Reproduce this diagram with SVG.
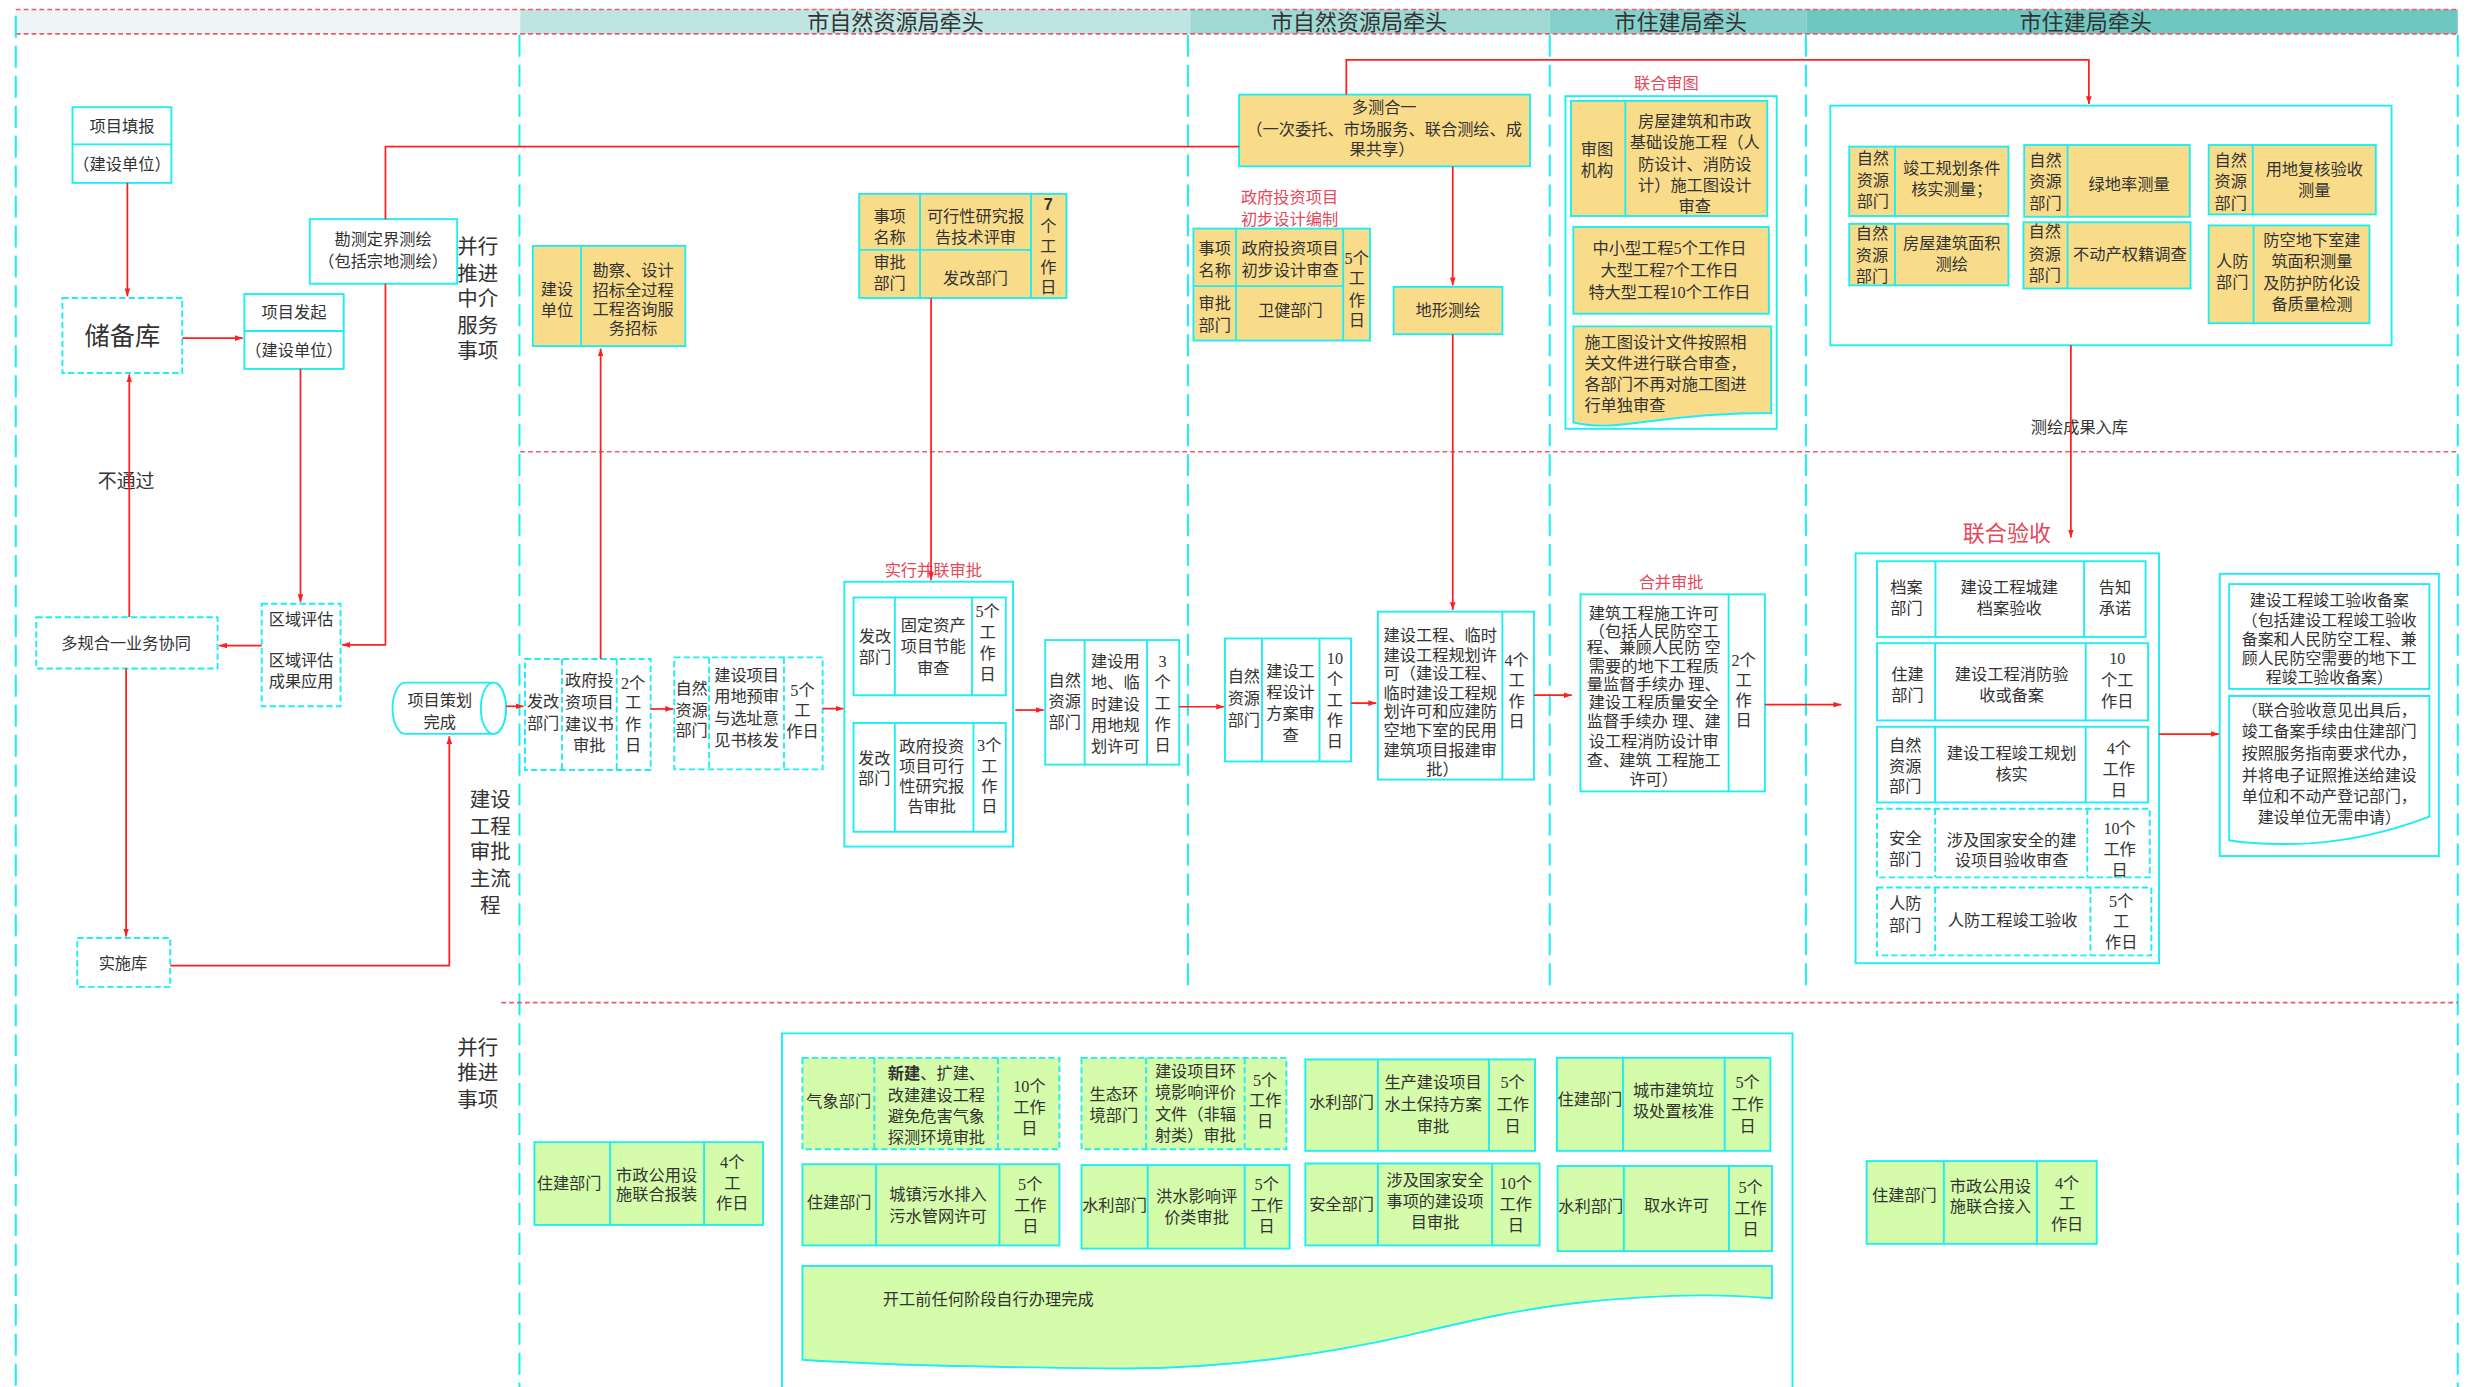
<svg xmlns="http://www.w3.org/2000/svg" width="2472" height="1387" viewBox="0 0 2472 1387">
<style>
.c{fill:#fff;stroke:#1ceef2;stroke-width:1.2}
.cd{fill:#fff;stroke:#1ceef2;stroke-width:1.2;stroke-dasharray:4 2}
.y{fill:#f9dc8a;stroke:#1ceef2;stroke-width:1.2}
.gr{fill:#d5fcaa;stroke:#1ceef2;stroke-width:1.2}
.gd{fill:#d5fcaa;stroke:#1ceef2;stroke-width:1.2;stroke-dasharray:4 2}
.ln{stroke:#1ceef2;stroke-width:1.2;fill:none}
.lnd{stroke:#1ceef2;stroke-width:1.2;fill:none;stroke-dasharray:4 2}
.lane{stroke:#1ceef2;stroke-width:1.3;stroke-dasharray:14 5;fill:none}
.rd{stroke:#f0566c;stroke-width:1;stroke-dasharray:3 2;fill:none}
.r{stroke:#ff1f1f;stroke-width:1.1;fill:none}
.ra{marker-end:url(#a)}
text{font-family:"Liberation Serif","Noto Sans CJK SC",serif;fill:#333;text-anchor:middle;font-size:10.3px}
.lt{text-anchor:start}
.rl{fill:#e4485a}
.v{font-size:13px}
.h{font-size:14px}
</style>
<defs>
<marker id="a" viewBox="0 0 10 10" refX="10" refY="5" markerWidth="5" markerHeight="3.6" markerUnits="userSpaceOnUse" orient="auto" preserveAspectRatio="none"><path d="M0,0 L10,5 L0,10 z" fill="#ff1f1f"/></marker>
</defs>
<rect width="2472" height="1387" fill="#fff"/>
<g transform="scale(1.5765)">
<g id="header">
<rect x="10" y="6" width="320" height="15.5" fill="#edf6f5"/>
<rect x="330" y="6" width="425" height="15.5" fill="#bfe5e2"/>
<rect x="755" y="6" width="228" height="15.5" fill="#a0d8d4"/>
<rect x="983" y="6" width="163" height="15.5" fill="#86d0cb"/>
<rect x="1146" y="6" width="413" height="15.5" fill="#6ec7c1"/>
<line class="rd" x1="10" y1="6" x2="1559" y2="6"/>
<line class="rd" x1="10" y1="21.5" x2="1559" y2="21.5"/>
<text class="h" x="568" y="19">市自然资源局牵头</text>
<text class="h" x="862" y="19">市自然资源局牵头</text>
<text class="h" x="1066" y="19">市住建局牵头</text>
<text class="h" x="1323" y="19">市住建局牵头</text>
</g>
<g id="lanes">
<line class="lane" x1="10" y1="10" x2="10" y2="880"/>
<line class="lane" x1="329.5" y1="22" x2="329.5" y2="880"/>
<line class="lane" x1="753.5" y1="22" x2="753.5" y2="630"/>
<line class="lane" x1="983" y1="22" x2="983" y2="630"/>
<line class="lane" x1="1145.5" y1="22" x2="1145.5" y2="630"/>
<line class="lane" x1="1559" y1="22" x2="1559" y2="880"/>
<line class="rd" x1="330" y1="286.5" x2="1559" y2="286.5"/>
<line class="rd" x1="318" y1="636" x2="1559" y2="636"/>
<text class="v"><tspan x="303" y="161">并行</tspan><tspan x="303" y="178">推进</tspan><tspan x="303" y="194">中介</tspan><tspan x="303" y="211">服务</tspan><tspan x="303" y="227">事项</tspan></text>
<text class="v"><tspan x="311" y="512">建设</tspan><tspan x="311" y="529">工程</tspan><tspan x="311" y="545">审批</tspan><tspan x="311" y="562">主流</tspan><tspan x="311" y="579">程</tspan></text>
<text class="v"><tspan x="303" y="669">并行</tspan><tspan x="303" y="685">推进</tspan><tspan x="303" y="702">事项</tspan></text>
</g>

<g id="n_xmtb"><rect class="c" x="46" y="68" width="62.7" height="48"/><line class="ln" x1="46" y1="91.6" x2="108.7" y2="91.6"/><text x="77.4" y="83.6">项目填报</text><text x="77.4" y="107.6">（建设单位）</text></g>
<g id="n_cbk"><rect class="cd" x="39.6" y="189" width="76" height="47.6"/><text x="77.6" y="218.8" style="font-size:16px">储备库</text></g>
<g id="n_xmfq"><rect class="c" x="155" y="186.5" width="63" height="47.5"/><line class="ln" x1="155" y1="210" x2="218" y2="210"/><text x="186.5" y="201.6">项目发起</text><text x="186.5" y="225.6">（建设单位）</text></g>
<g id="n_kcdj"><rect class="c" x="196.5" y="139" width="93.5" height="41"/><text x="243" y="155.6">勘测定界测绘</text><text x="243" y="169.6">（包括宗地测绘）</text></g>
<g id="n_qypg"><rect class="cd" x="166" y="383" width="50" height="65"/><text x="191" y="396.6">区域评估</text><text x="191" y="422.6">区域评估</text><text x="191" y="435.6">成果应用</text></g>
<g id="n_dghy"><rect class="cd" x="23" y="391.5" width="115" height="32.5"/><text x="80" y="411.6">多规合一业务协同</text></g>
<g id="n_ssk"><rect class="cd" x="49" y="595" width="59" height="31"/><text x="78" y="614.6">实施库</text></g>
<g id="n_xmch"><path class="c" d="M257,433 H313 A8,16.25 0 0 1 313,465.5 H257 A8,16.25 0 0 1 257,433 Z"/><ellipse class="c" cx="313" cy="449.25" rx="8" ry="16.25"/><text x="279" y="447.6">项目策划</text><text x="279" y="461.6">完成</text></g>
<text x="80" y="309.5" style="font-size:12px">不通过</text>

<g id="n_kcsj"><rect class="y" x="338" y="156" width="96.7" height="63.5"/><line class="ln" x1="368.6" y1="156" x2="368.6" y2="219.5"/>
<text><tspan x="353.3" y="187">建设</tspan><tspan x="353.3" y="200.3">单位</tspan></text>
<text><tspan x="401.6" y="175.3">勘察、设计</tspan><tspan x="401.6" y="187.6">招标全过程</tspan><tspan x="401.6" y="199.6">工程咨询服</tspan><tspan x="401.6" y="211.6">务招标</tspan></text></g>

<g id="n_kxx"><rect class="y" x="545" y="123" width="131.5" height="66"/><line class="ln" x1="583.6" y1="123" x2="583.6" y2="189"/><line class="ln" x1="654" y1="123" x2="654" y2="189"/><line class="ln" x1="545" y1="158.5" x2="654" y2="158.5"/>
<text><tspan x="564.3" y="140.6">事项</tspan><tspan x="564.3" y="154">名称</tspan></text>
<text><tspan x="618.8" y="140.6">可行性研究报</tspan><tspan x="618.8" y="154">告技术评审</tspan></text>
<text><tspan x="564.3" y="170">审批</tspan><tspan x="564.3" y="183.6">部门</tspan></text>
<text x="618.8" y="180.2">发改部门</text>
<text><tspan x="665" y="133" style="font-family:'Liberation Sans',sans-serif;font-weight:bold">7</tspan><tspan x="665" y="147">个</tspan><tspan x="665" y="160">工</tspan><tspan x="665" y="173.4">作</tspan><tspan x="665" y="186">日</tspan></text></g>

<g id="n_jys"><rect class="cd" x="333" y="418" width="79.7" height="70.4"/><line class="lnd" x1="356.5" y1="418" x2="356.5" y2="488.4"/><line class="lnd" x1="391.2" y1="418" x2="391.2" y2="488.4"/>
<text><tspan x="344.5" y="448.6">发改</tspan><tspan x="344.5" y="462.4">部门</tspan></text>
<text><tspan x="373.8" y="435.4">政府投</tspan><tspan x="373.8" y="449.1">资项目</tspan><tspan x="373.8" y="462.8">建议书</tspan><tspan x="373.8" y="476.1">审批</tspan></text>
<text><tspan x="401.6" y="437">2个</tspan><tspan x="401.6" y="449.3">工</tspan><tspan x="401.6" y="462.8">作</tspan><tspan x="401.6" y="476.2">日</tspan></text></g>

<g id="n_ydys"><rect class="cd" x="427.7" y="417" width="94.1" height="71"/><line class="lnd" x1="449.8" y1="417" x2="449.8" y2="488"/><line class="lnd" x1="497.3" y1="417" x2="497.3" y2="488"/>
<text><tspan x="438.7" y="440.2">自然</tspan><tspan x="438.7" y="454">资源</tspan><tspan x="438.7" y="467.1">部门</tspan></text>
<text><tspan x="473.6" y="431.8">建设项目</tspan><tspan x="473.6" y="445.5">用地预审</tspan><tspan x="473.6" y="459.2">与选址意</tspan><tspan x="473.6" y="473">见书核发</tspan></text>
<text><tspan x="509" y="441.3">5个</tspan><tspan x="509" y="454">工</tspan><tspan x="509" y="467.7">作日</tspan></text></g>

<g id="n_bl"><text class="rl" x="592" y="365.6">实行并联审批</text><rect class="c" x="535.6" y="369" width="107" height="168"/>
<rect class="c" x="541.4" y="379" width="96.6" height="62"/><line class="ln" x1="567.6" y1="379" x2="567.6" y2="441"/><line class="ln" x1="616.6" y1="379" x2="616.6" y2="441"/>
<text><tspan x="555" y="407.5">发改</tspan><tspan x="555" y="420.6">部门</tspan></text>
<text><tspan x="592" y="400">固定资产</tspan><tspan x="592" y="413.8">项目节能</tspan><tspan x="592" y="427.5">审查</tspan></text>
<text><tspan x="626.5" y="391.6">5个</tspan><tspan x="626.5" y="404.9">工</tspan><tspan x="626.5" y="418">作</tspan><tspan x="626.5" y="431.1">日</tspan></text>
<rect class="c" x="541.4" y="458.6" width="96.6" height="69"/><line class="ln" x1="567.6" y1="458.6" x2="567.6" y2="527.6"/><line class="ln" x1="617.5" y1="458.6" x2="617.5" y2="527.6"/>
<text><tspan x="554.5" y="484.6">发改</tspan><tspan x="554.5" y="497.3">部门</tspan></text>
<text><tspan x="591" y="477.2">政府投资</tspan><tspan x="591" y="489.9">项目可行</tspan><tspan x="591" y="502.6">性研究报</tspan><tspan x="591" y="514.9">告审批</tspan></text>
<text><tspan x="627.5" y="476.6">3个</tspan><tspan x="627.5" y="489.5">工</tspan><tspan x="627.5" y="502.6">作</tspan><tspan x="627.5" y="515.3">日</tspan></text></g>

<g id="n_jsyd"><rect class="c" x="663" y="406" width="85" height="79"/><line class="ln" x1="688" y1="406" x2="688" y2="485"/><line class="ln" x1="727.6" y1="406" x2="727.6" y2="485"/>
<text><tspan x="675.4" y="434.9">自然</tspan><tspan x="675.4" y="448.7">资源</tspan><tspan x="675.4" y="462">部门</tspan></text>
<text><tspan x="707.5" y="423.3">建设用</tspan><tspan x="707.5" y="436.6">地、临</tspan><tspan x="707.5" y="450.2">时建设</tspan><tspan x="707.5" y="463.9">用地规</tspan><tspan x="707.5" y="477.2">划许可</tspan></text>
<text><tspan x="737.5" y="423.3">3</tspan><tspan x="737.5" y="436.6">个</tspan><tspan x="737.5" y="450">工</tspan><tspan x="737.5" y="463.2">作</tspan><tspan x="737.5" y="476.5">日</tspan></text></g>

<g id="n_dchy"><rect class="y" x="786" y="60" width="184.5" height="45.5"/><text x="878" y="71.6">多测合一</text><text x="878" y="85.4">（一次委托、市场服务、联合测绘、成</text><text x="876.6" y="98.1">果共享）</text></g>
<g id="n_dxch"><rect class="y" x="884" y="182" width="69" height="30"/><text x="918.5" y="200.6">地形测绘</text></g>
<text class="rl"><tspan x="818" y="128.6">政府投资项目</tspan><tspan x="818" y="142.6">初步设计编制</tspan></text>
<g id="n_cbsj"><rect class="y" x="757" y="145" width="112" height="71"/><line class="ln" x1="784" y1="145" x2="784" y2="216"/><line class="ln" x1="852" y1="145" x2="852" y2="216"/><line class="ln" x1="757" y1="181.5" x2="852" y2="181.5"/>
<text><tspan x="770.5" y="161.1">事项</tspan><tspan x="770.5" y="174.9">名称</tspan></text>
<text><tspan x="818.3" y="161.1">政府投资项目</tspan><tspan x="818.3" y="174.9">初步设计审查</tspan></text>
<text><tspan x="770.5" y="196">审批</tspan><tspan x="770.5" y="209.8">部门</tspan></text>
<text x="818.5" y="200.6">卫健部门</text>
<text><tspan x="860.6" y="167.5">5个</tspan><tspan x="860.6" y="180.1">工</tspan><tspan x="860.6" y="193.9">作</tspan><tspan x="860.6" y="207">日</tspan></text></g>

<g id="n_sjfa"><rect class="c" x="777" y="405" width="80" height="78"/><line class="ln" x1="800.5" y1="405" x2="800.5" y2="483"/><line class="ln" x1="837" y1="405" x2="837" y2="483"/>
<text><tspan x="789" y="432.8">自然</tspan><tspan x="789" y="446.6">资源</tspan><tspan x="789" y="460.3">部门</tspan></text>
<text><tspan x="818.6" y="429.6">建设工</tspan><tspan x="818.6" y="442.6">程设计</tspan><tspan x="818.6" y="456.1">方案审</tspan><tspan x="818.6" y="469.8">查</tspan></text>
<text><tspan x="846.8" y="421.2">10</tspan><tspan x="846.8" y="434.5">个</tspan><tspan x="846.8" y="447.6">工</tspan><tspan x="846.8" y="460.7">作</tspan><tspan x="846.8" y="474.1">日</tspan></text></g>

<g id="n_ghxk"><rect class="c" x="874" y="388" width="99" height="106.5"/><line class="ln" x1="953" y1="388" x2="953" y2="494.5"/>
<text><tspan x="913.6" y="406.4">建设工程、临时</tspan><tspan x="913.6" y="419.1">建设工程规划许</tspan><tspan x="913.6" y="430.7">可（建设工程、</tspan><tspan x="913.6" y="443.4">临时建设工程规</tspan><tspan x="913.6" y="455">划许可和应建防</tspan><tspan x="913.6" y="467.1">空地下室的民用</tspan><tspan x="913.6" y="479.3">建筑项目报建审</tspan><tspan x="915" y="491.6">批）</tspan></text>
<text><tspan x="962" y="422.3">4个</tspan><tspan x="962" y="434.9">工</tspan><tspan x="962" y="448.7">作</tspan><tspan x="962" y="461.4">日</tspan></text></g>

<g id="n_lhst"><text class="rl" x="1057" y="56.6">联合审图</text><rect class="c" x="993" y="61" width="134" height="211"/>
<rect class="y" x="996.5" y="64" width="124.5" height="73"/><line class="ln" x1="1031" y1="64" x2="1031" y2="137"/>
<text><tspan x="1013" y="98.1">审图</tspan><tspan x="1013" y="111.4">机构</tspan></text>
<text><tspan x="1075" y="80.4">房屋建筑和市政</tspan><tspan x="1075" y="94.1">基础设施工程（人</tspan><tspan x="1075" y="107.8">防设计、消防设</tspan><tspan x="1075" y="121.4">计）施工图设计</tspan><tspan x="1075" y="134.7">审查</tspan></text>
<rect class="y" x="998" y="144" width="124" height="55"/>
<text><tspan x="1059" y="161.1">中小型工程5个工作日</tspan><tspan x="1059" y="174.9">大型工程7个工作日</tspan><tspan x="1059" y="189">特大型工程10个工作日</tspan></text>
<path class="y" d="M998,207 H1123.5 V262 C1090,262 1062,265 1040,268 C1020,271 1006,270 998,268 Z"/>
<text class="lt"><tspan x="1005" y="220.7">施工图设计文件按照相</tspan><tspan x="1005" y="234.1">关文件进行联合审查，</tspan><tspan x="1005" y="247.2">各部门不再对施工图进</tspan><tspan x="1005" y="260.5">行单独审查</tspan></text></g>

<g id="n_sgxk"><text class="rl" x="1060" y="372.8">合并审批</text><rect class="c" x="1002.5" y="377" width="117" height="125"/><line class="ln" x1="1096.5" y1="377" x2="1096.5" y2="502"/>
<text><tspan x="1049" y="392.6">建筑工程施工许可</tspan><tspan x="1049" y="403.9">（包括人民防空工</tspan><tspan x="1049" y="414.2">程、兼顾人民防 空</tspan><tspan x="1049" y="426.1">需要的地下工程质</tspan><tspan x="1049" y="437.5">量监督手续办 理、</tspan><tspan x="1049" y="449.3">建设工程质量安全</tspan><tspan x="1049" y="461.1">监督手续办 理、建</tspan><tspan x="1049" y="474.1">设工程消防设计审</tspan><tspan x="1049" y="485.7">查、建筑 工程施工</tspan><tspan x="1049" y="497.9">许可）</tspan></text>
<text><tspan x="1106" y="422.3">2个</tspan><tspan x="1106" y="434.9">工</tspan><tspan x="1106" y="447.6">作</tspan><tspan x="1106" y="460.3">日</tspan></text></g>

<g id="n_chcg"><rect class="c" x="1161" y="67" width="356" height="152"/>
<rect class="y" x="1173" y="93" width="101" height="44"/><line class="ln" x1="1202" y1="93" x2="1202" y2="137"/>
<text><tspan x="1188" y="104">自然</tspan><tspan x="1188" y="117.8">资源</tspan><tspan x="1188" y="131.5">部门</tspan></text>
<text><tspan x="1238" y="110.4">竣工规划条件</tspan><tspan x="1238" y="123.7">核实测量；</tspan></text>
<rect class="y" x="1284" y="92" width="105" height="45.5"/><line class="ln" x1="1311.5" y1="92" x2="1311.5" y2="137.5"/>
<text><tspan x="1297.5" y="105.1">自然</tspan><tspan x="1297.5" y="118.8">资源</tspan><tspan x="1297.5" y="132.6">部门</tspan></text>
<text x="1350.5" y="120.3">绿地率测量</text>
<rect class="y" x="1401" y="92" width="106" height="44"/><line class="ln" x1="1429" y1="92" x2="1429" y2="136"/>
<text><tspan x="1415" y="105.1">自然</tspan><tspan x="1415" y="118.8">资源</tspan><tspan x="1415" y="132.6">部门</tspan></text>
<text><tspan x="1468" y="111">用地复核验收</tspan><tspan x="1468" y="124.6">测量</tspan></text>
<rect class="y" x="1173" y="142" width="101" height="39"/><line class="ln" x1="1202" y1="142" x2="1202" y2="181"/>
<text><tspan x="1187.5" y="151.6">自然</tspan><tspan x="1187.5" y="165.3">资源</tspan><tspan x="1187.5" y="178.6">部门</tspan></text>
<text><tspan x="1238" y="157.9">房屋建筑面积</tspan><tspan x="1238" y="171.3">测绘</tspan></text>
<rect class="y" x="1283.5" y="141" width="106" height="42"/><line class="ln" x1="1311.5" y1="141" x2="1311.5" y2="183"/>
<text><tspan x="1297" y="150.6">自然</tspan><tspan x="1297" y="164.7">资源</tspan><tspan x="1297" y="178">部门</tspan></text>
<text x="1351" y="164.7">不动产权籍调查</text>
<rect class="y" x="1401" y="143" width="102" height="62"/><line class="ln" x1="1429.5" y1="143" x2="1429.5" y2="205"/>
<text><tspan x="1416" y="169.6">人防</tspan><tspan x="1416" y="182.9">部门</tspan></text>
<text><tspan x="1466.5" y="156.3">防空地下室建</tspan><tspan x="1466.5" y="169.6">筑面积测量</tspan><tspan x="1466.5" y="183.3">及防护防化设</tspan><tspan x="1466.5" y="196.4">备质量检测</tspan></text></g>

<g id="n_lhys"><text class="rl" x="1273" y="343" style="font-size:14px">联合验收</text><rect class="c" x="1177" y="351" width="192.5" height="260"/>
<rect class="c" x="1190.6" y="356" width="170.4" height="48"/><line class="ln" x1="1227.7" y1="356" x2="1227.7" y2="404"/><line class="ln" x1="1322" y1="356" x2="1322" y2="404"/>
<text><tspan x="1209.3" y="376.1">档案</tspan><tspan x="1209.3" y="389.5">部门</tspan></text>
<text><tspan x="1274.5" y="376.1">建设工程城建</tspan><tspan x="1274.5" y="389.5">档案验收</tspan></text>
<text><tspan x="1341.6" y="376.1">告知</tspan><tspan x="1341.6" y="389.5">承诺</tspan></text>
<rect class="c" x="1190.6" y="408" width="172" height="49"/><line class="ln" x1="1227.5" y1="408" x2="1227.5" y2="457"/><line class="ln" x1="1323" y1="408" x2="1323" y2="457"/>
<text><tspan x="1210" y="431.1">住建</tspan><tspan x="1210" y="444.5">部门</tspan></text>
<text><tspan x="1276" y="431.1">建设工程消防验</tspan><tspan x="1276" y="444.5">收或备案</tspan></text>
<text><tspan x="1343" y="421.2">10</tspan><tspan x="1343" y="435.4">个工</tspan><tspan x="1343" y="448.3">作日</tspan></text>
<rect class="c" x="1190.6" y="461" width="172" height="48"/><line class="ln" x1="1227.5" y1="461" x2="1227.5" y2="509"/><line class="ln" x1="1323" y1="461" x2="1323" y2="509"/>
<text><tspan x="1208.5" y="476.2">自然</tspan><tspan x="1208.5" y="489.5">资源</tspan><tspan x="1208.5" y="502.6">部门</tspan></text>
<text><tspan x="1276" y="481.4">建设工程竣工规划</tspan><tspan x="1276" y="494.6">核实</tspan></text>
<text><tspan x="1344" y="478.3">4个</tspan><tspan x="1344" y="491.6">工作</tspan><tspan x="1344" y="504.7">日</tspan></text>
<rect class="cd" x="1190.6" y="513" width="173" height="43.5"/><line class="lnd" x1="1227.5" y1="513" x2="1227.5" y2="556.5"/><line class="lnd" x1="1324" y1="513" x2="1324" y2="556.5"/>
<text><tspan x="1208.5" y="535.3">安全</tspan><tspan x="1208.5" y="548.6">部门</tspan></text>
<text><tspan x="1276" y="536.4">涉及国家安全的建</tspan><tspan x="1276" y="549.6">设项目验收审查</tspan></text>
<text><tspan x="1344.5" y="529">10个</tspan><tspan x="1344.5" y="542.3">工作</tspan><tspan x="1344.5" y="555.4">日</tspan></text>
<rect class="cd" x="1190.6" y="563" width="174" height="43"/><line class="lnd" x1="1227.5" y1="563" x2="1227.5" y2="606"/><line class="lnd" x1="1326" y1="563" x2="1326" y2="606"/>
<text><tspan x="1208.5" y="576.6">人防</tspan><tspan x="1208.5" y="590.3">部门</tspan></text>
<text x="1276.6" y="587.2">人防工程竣工验收</text>
<text><tspan x="1345.5" y="575.6">5个</tspan><tspan x="1345.5" y="588.2">工</tspan><tspan x="1345.5" y="601.3">作日</tspan></text></g>

<g id="n_ba"><rect class="c" x="1408" y="364" width="139" height="179"/>
<rect class="c" x="1414" y="370.5" width="127" height="66.5"/>
<text style="font-size:10.1px"><tspan x="1477.5" y="384.6">建设工程竣工验收备案</tspan><tspan x="1477.5" y="396.9">（包括建设工程竣工验收</tspan><tspan x="1477.5" y="409.1">备案和人民防空工程、兼</tspan><tspan x="1477.5" y="421.2">顾人民防空需要的地下工</tspan><tspan x="1477.5" y="433.2">程竣工验收备案）</tspan></text>
<path class="c" d="M1414,441.5 H1541 V518 C1520,526 1495,533 1465,535 C1440,536 1425,535 1414,533 Z"/>
<text style="font-size:10.1px"><tspan x="1477.5" y="454.4">（联合验收意见出具后，</tspan><tspan x="1477.5" y="467.7">竣工备案手续由住建部门</tspan><tspan x="1477.5" y="481.4">按照服务指南要求代办，</tspan><tspan x="1477.5" y="495.2">并将电子证照推送给建设</tspan><tspan x="1477.5" y="508.5">单位和不动产登记部门，</tspan><tspan x="1477.5" y="522">建设单位无需申请）</tspan></text></g>

<g id="n_szbz"><rect class="gr" x="339" y="724.5" width="145" height="52.5"/><line class="ln" x1="387" y1="724.5" x2="387" y2="777"/><line class="ln" x1="446.6" y1="724.5" x2="446.6" y2="777"/>
<text x="361" y="754.2">住建部门</text>
<text><tspan x="416.5" y="748.9">市政公用设</tspan><tspan x="416.5" y="761">施联合报装</tspan></text>
<text><tspan x="464.5" y="741.1">4个</tspan><tspan x="464.5" y="754.2">工</tspan><tspan x="464.5" y="766.9">作日</tspan></text></g>

<g id="n_bx"><path class="c" d="M496,885 V655.5 H1137 V885"/>
<g id="n_qx"><rect class="gd" x="509" y="671" width="163" height="58"/><line class="lnd" x1="554.6" y1="671" x2="554.6" y2="729"/><line class="lnd" x1="633" y1="671" x2="633" y2="729"/>
<text x="532" y="702.4">气象部门</text>
<text><tspan x="594" y="684.4"><tspan font-weight="bold">新建</tspan>、扩建、</tspan><tspan x="594" y="698.2">改建建设工程</tspan><tspan x="594" y="711.9">避免危害气象</tspan><tspan x="594" y="725">探测环境审批</tspan></text>
<text><tspan x="653" y="692.9">10个</tspan><tspan x="653" y="706">工作</tspan><tspan x="653" y="719.3">日</tspan></text></g>
<g id="n_st"><rect class="gd" x="686" y="671" width="130" height="58"/><line class="lnd" x1="727" y1="671" x2="727" y2="729"/><line class="lnd" x1="789.5" y1="671" x2="789.5" y2="729"/>
<text><tspan x="706.5" y="697.6">生态环</tspan><tspan x="706.5" y="710.9">境部门</tspan></text>
<text><tspan x="758.3" y="683.4">建设项目环</tspan><tspan x="758.3" y="696.7">境影响评价</tspan><tspan x="758.3" y="710.2">文件（非辐</tspan><tspan x="758.3" y="723.6">射类）审批</tspan></text>
<text><tspan x="802.5" y="688.6">5个</tspan><tspan x="802.5" y="701.8">工作</tspan><tspan x="802.5" y="715.1">日</tspan></text></g>
<g id="n_sb"><rect class="gr" x="828" y="672" width="145.7" height="58"/><line class="ln" x1="874" y1="672" x2="874" y2="730"/><line class="ln" x1="944.5" y1="672" x2="944.5" y2="730"/>
<text x="851" y="703.1">水利部门</text>
<text><tspan x="909" y="690.4">生产建设项目</tspan><tspan x="909" y="703.9">水土保持方案</tspan><tspan x="909" y="717.8">审批</tspan></text>
<text><tspan x="959.5" y="690.4">5个</tspan><tspan x="959.5" y="703.9">工作</tspan><tspan x="959.5" y="717.8">日</tspan></text></g>
<g id="n_lj"><rect class="gr" x="987.6" y="671" width="135.4" height="59"/><line class="ln" x1="1029.5" y1="671" x2="1029.5" y2="730"/><line class="ln" x1="1094" y1="671" x2="1094" y2="730"/>
<text x="1008.5" y="700.7">住建部门</text>
<text><tspan x="1061.5" y="695.4">城市建筑垃</tspan><tspan x="1061.5" y="708.8">圾处置核准</tspan></text>
<text><tspan x="1108.5" y="690.4">5个</tspan><tspan x="1108.5" y="703.9">工作</tspan><tspan x="1108.5" y="717.8">日</tspan></text></g>
<g id="n_ws"><rect class="gr" x="509" y="738.5" width="163" height="51.5"/><line class="ln" x1="555.7" y1="738.5" x2="555.7" y2="790"/><line class="ln" x1="634" y1="738.5" x2="634" y2="790"/>
<text x="532.3" y="766.5">住建部门</text>
<text><tspan x="595" y="761">城镇污水排入</tspan><tspan x="595" y="774.9">污水管网许可</tspan></text>
<text><tspan x="653.5" y="754.6">5个</tspan><tspan x="653.5" y="768">工作</tspan><tspan x="653.5" y="781.3">日</tspan></text></g>
<g id="n_hs"><rect class="gr" x="686" y="739" width="132" height="53"/><line class="ln" x1="728" y1="739" x2="728" y2="792"/><line class="ln" x1="789.5" y1="739" x2="789.5" y2="792"/>
<text x="707" y="768">水利部门</text>
<text><tspan x="759" y="762.2">洪水影响评</tspan><tspan x="759" y="775.8">价类审批</tspan></text>
<text><tspan x="803.5" y="754.6">5个</tspan><tspan x="803.5" y="768">工作</tspan><tspan x="803.5" y="781.3">日</tspan></text></g>
<g id="n_aq"><rect class="gr" x="828" y="738" width="148.6" height="52"/><line class="ln" x1="874" y1="738" x2="874" y2="790"/><line class="ln" x1="946.5" y1="738" x2="946.5" y2="790"/>
<text x="851" y="767.3">安全部门</text>
<text><tspan x="910.3" y="752.1">涉及国家安全</tspan><tspan x="910.3" y="765.4">事项的建设项</tspan><tspan x="910.3" y="779.2">目审批</tspan></text>
<text><tspan x="961.5" y="754.2">10个</tspan><tspan x="961.5" y="767.3">工作</tspan><tspan x="961.5" y="780.6">日</tspan></text></g>
<g id="n_qs"><rect class="gr" x="988" y="739.6" width="136" height="54"/><line class="ln" x1="1030" y1="739.6" x2="1030" y2="793.6"/><line class="ln" x1="1096.7" y1="739.6" x2="1096.7" y2="793.6"/>
<text x="1009" y="768.6">水利部门</text>
<text x="1063.4" y="768">取水许可</text>
<text><tspan x="1110.4" y="756.7">5个</tspan><tspan x="1110.4" y="770.1">工作</tspan><tspan x="1110.4" y="783.4">日</tspan></text></g>
<g id="n_kg"><path class="gr" d="M509,803 H1124 V823.5 C1085,820 1040,822 1000,826.5 C950,832 905,845 870,852 C820,862 760,869 700,868 C620,867 560,866 509,862.5 Z"/>
<text class="lt" x="560" y="827.6">开工前任何阶段自行办理完成</text></g>
</g>

<g id="n_szjr"><rect class="gr" x="1184" y="736.5" width="146" height="52.5"/><line class="ln" x1="1233" y1="736.5" x2="1233" y2="789"/><line class="ln" x1="1292" y1="736.5" x2="1292" y2="789"/>
<text x="1208" y="761.6">住建部门</text>
<text><tspan x="1262.5" y="756.3">市政公用设</tspan><tspan x="1262.5" y="769">施联合接入</tspan></text>
<text><tspan x="1311.2" y="754.2">4个</tspan><tspan x="1311.2" y="766.9">工</tspan><tspan x="1311.2" y="780">作日</tspan></text></g>

<text x="1319" y="274.6">测绘成果入库</text>

<g id="connectors">
<path class="r ra" d="M80.8,116 V188"/>
<path class="r ra" d="M115.7,214.5 H154"/>
<path class="r ra" d="M190.6,234 V382"/>
<path class="r" d="M244.5,139 V93 H786"/>
<path class="r ra" d="M244.5,180 V409 H217"/>
<path class="r ra" d="M166,409.5 H139"/>
<path class="r ra" d="M82,391.5 V237.5"/>
<path class="r ra" d="M80,424 V594"/>
<path class="r ra" d="M108,612.5 H285 V467"/>
<path class="r ra" d="M321,448 H332"/>
<path class="r ra" d="M381,418 V221"/>
<path class="r ra" d="M412.7,449.7 H427"/>
<path class="r ra" d="M521.8,449.5 H535"/>
<path class="r ra" d="M590.6,189 V368"/>
<path class="r ra" d="M644,450.4 H662"/>
<path class="r ra" d="M748,448.3 H776.5"/>
<path class="r ra" d="M857,446 H873"/>
<path class="r ra" d="M973,441 H997"/>
<path class="r ra" d="M1119.5,447 H1168"/>
<path class="r ra" d="M854,60 V38 H1325 V66"/>
<path class="r ra" d="M921.5,105.5 V181"/>
<path class="r ra" d="M921.5,212 V387"/>
<path class="r ra" d="M1313.6,219 V341"/>
<path class="r ra" d="M1369.5,465.6 H1407.5"/>
</g>
</g>
</svg>
